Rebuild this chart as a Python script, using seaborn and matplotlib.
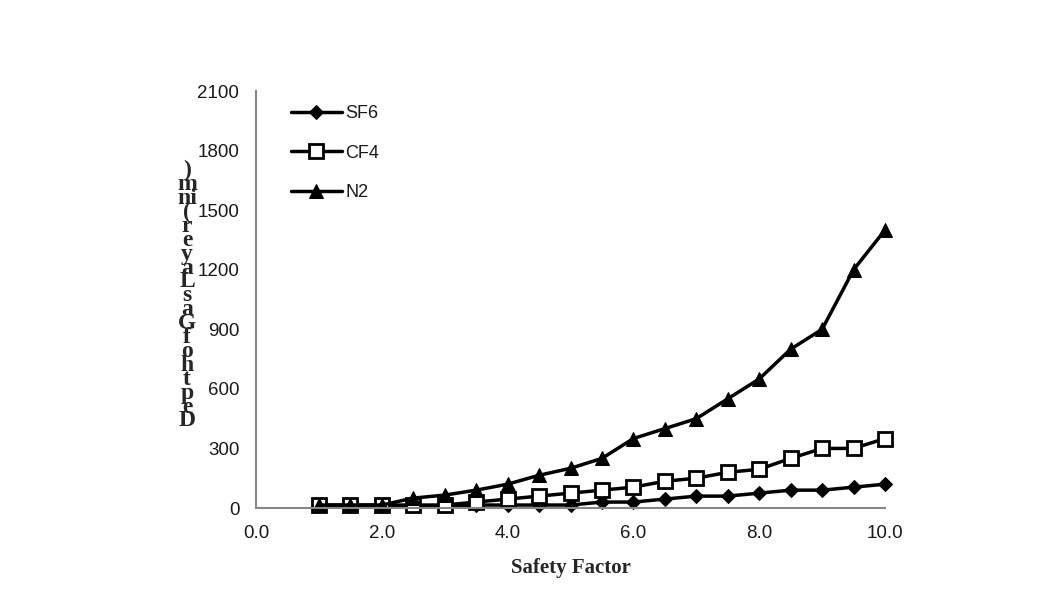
import matplotlib
matplotlib.use('Agg')
import pandas as pd
import seaborn as sns
import matplotlib.pyplot as plt

# Dados
fator_seguranca = [1.0, 1.5, 2.0, 2.5, 3.0, 3.5, 4.0, 4.5, 5.0, 5.5,
                   6.0, 6.5, 7.0, 7.5, 8.0, 8.5, 9.0, 9.5, 10.0]
sf6 = [10, 10, 10, 10, 10, 15, 15, 15, 15, 30, 30, 45, 60, 60, 75, 90, 90, 105, 120]
cf4 = [15, 15, 15, 15, 15, 30, 45, 60, 75, 90, 105, 135, 150, 180, 195, 250, 300, 300, 350]
n2 = [15, 15, 15, 50, 65, 90, 120, 165, 200, 250, 350, 400, 450, 550, 650, 800, 900, 1200, 1400]

x_ticks = [0, 2, 4, 6, 8, 10]
y_ticks = [0, 300, 600, 900, 1200, 1500, 1800, 2100]
rotulo_y = "Depth of Gas Layer (in m)"

sns.set_style('white')
plt.rcParams['font.family'] = ['Liberation Sans', 'DejaVu Sans']

fig = plt.figure(figsize=(10.39, 6.12), dpi=100)
ax = fig.add_axes([0.2464, 0.1699, 0.6054, 0.6814])

cinza = '#868686'
estilo = dict(ax=ax, color='black', lw=2.5, clip_on=False)
sns.lineplot(x=fator_seguranca, y=sf6, marker='D', markersize=7,
             markerfacecolor='black', markeredgecolor='black', label='SF6', **estilo)
sns.lineplot(x=fator_seguranca, y=cf4, marker='s', markersize=10,
             markerfacecolor='white', markeredgecolor='black',
             markeredgewidth=2, label='CF4', **estilo)
sns.lineplot(x=fator_seguranca, y=n2, marker='^', markersize=10,
             markerfacecolor='black', markeredgecolor='black', label='N2', **estilo)

ax.set_xlim(0, 10)
ax.set_ylim(0, 2100)
ax.set_xticks(x_ticks)
ax.set_xticklabels([f'{v:.1f}' for v in x_ticks])
ax.set_yticks(y_ticks)
ax.tick_params(axis='both', labelsize=13.5, colors=cinza, labelcolor='#1a1a1a',
               direction='out', length=6, width=1.5, pad=6)
for lado in ['top', 'right']:
    ax.spines[lado].set_visible(False)
for lado in ['left', 'bottom']:
    ax.spines[lado].set_color(cinza)
    ax.spines[lado].set_linewidth(1.5)

ax.set_xlabel('Safety Factor', fontsize=15, fontweight='bold',
              family='Liberation Serif', labelpad=12)
ax.set_ylabel('')

leg = ax.legend(loc='upper left', bbox_to_anchor=(0.03, 1.005), frameon=False,
                fontsize=13, handlelength=2.8, labelspacing=1.25, handletextpad=0.2)
for t in leg.get_texts():
    t.set_color('#1a1a1a')

# Rótulo do eixo y empilhado letra a letra (como no original)
letras = list(rotulo_y.replace(' ', ''))
linhas = []
for c in letras:
    if c == 'n' and linhas and linhas[-1] == 'i':
        linhas[-1] = 'ni'
    else:
        linhas.append(c)
y0 = 421
passo = 13.9
for i, c in enumerate(linhas):
    fig.text(187 / 1039, 1 - (y0 - i * passo) / 612, c, ha='center', va='center',
             fontsize=17, fontweight='bold', family='Liberation Serif')

plt.savefig('out.png', dpi=100)
plt.close()
